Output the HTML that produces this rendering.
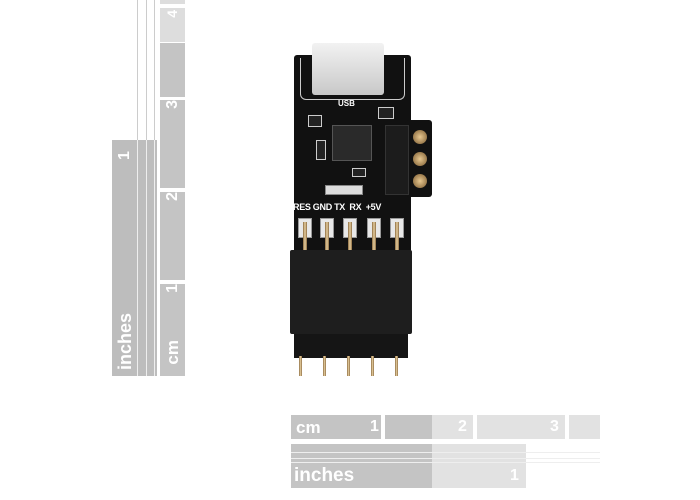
<!DOCTYPE html>
<html><head><style>
body{margin:0;width:700px;height:500px;background:#fff;position:relative;overflow:hidden;font-family:"Liberation Sans",sans-serif}
div{position:absolute;box-sizing:border-box}
.t{color:#fff;font-weight:bold}
.pin{background:linear-gradient(90deg,#8a6a40,#e8d0a0,#8a6a40)}
.smd{border:1px solid #ccc;background:#222}
.hdr{background:#e8e8e8;border:1px solid #999}
</style></head><body>
<!-- vertical rulers -->
<div style="left:137px;top:0;width:1px;height:140px;background:#ccc"></div>
<div style="left:146px;top:0;width:1px;height:140px;background:#ccc"></div>
<div style="left:154px;top:0;width:1px;height:140px;background:#ccc"></div>
<div style="left:112px;top:140px;width:45px;height:236px;background:#bdbdbd"></div>
<div style="left:137px;top:140px;width:1px;height:236px;background:#eee"></div>
<div style="left:146px;top:140px;width:1px;height:236px;background:#eee"></div>
<div style="left:154px;top:140px;width:1px;height:236px;background:#eee"></div>
<div class="t" style="left:112px;top:300px;width:26px;height:70px;font-size:18px;writing-mode:vertical-rl;transform:rotate(180deg);text-align:left;line-height:26px">inches</div>
<div class="t" style="left:112px;top:140px;width:26px;height:20px;font-size:16px;writing-mode:vertical-rl;transform:rotate(180deg);line-height:26px">1</div>
<div style="left:160px;top:0;width:25px;height:4px;background:#ddd"></div>
<div style="left:160px;top:8px;width:25px;height:34px;background:#ddd"></div>
<div class="t" style="left:160px;top:10px;width:25px;font-size:14px;writing-mode:vertical-rl;transform:rotate(180deg);line-height:25px">4</div>
<div style="left:160px;top:43px;width:25px;height:54px;background:#c4c4c4"></div>
<div style="left:160px;top:100px;width:25px;height:88px;background:#c4c4c4"></div>
<div class="t" style="left:160px;top:100px;width:25px;font-size:16px;writing-mode:vertical-rl;transform:rotate(180deg);line-height:25px">3</div>
<div style="left:160px;top:192px;width:25px;height:88px;background:#c4c4c4"></div>
<div class="t" style="left:160px;top:192px;width:25px;font-size:16px;writing-mode:vertical-rl;transform:rotate(180deg);line-height:25px">2</div>
<div style="left:160px;top:284px;width:25px;height:92px;background:#c4c4c4"></div>
<div class="t" style="left:160px;top:284px;width:25px;font-size:16px;writing-mode:vertical-rl;transform:rotate(180deg);line-height:25px">1</div>
<div class="t" style="left:160px;top:340px;width:25px;font-size:17px;writing-mode:vertical-rl;transform:rotate(180deg);line-height:25px">cm</div>
<!-- bottom rulers -->
<div style="left:291px;top:415px;width:90px;height:24px;background:#c4c4c4"></div>
<div class="t" style="left:296px;top:418px;font-size:17px">cm</div>
<div class="t" style="left:370px;top:418px;font-size:16px">1</div>
<div style="left:385px;top:415px;width:47px;height:24px;background:#c4c4c4"></div>
<div style="left:432px;top:415px;width:41px;height:24px;background:#e2e2e2"></div>
<div class="t" style="left:458px;top:418px;font-size:16px">2</div>
<div style="left:477px;top:415px;width:88px;height:24px;background:#e2e2e2"></div>
<div class="t" style="left:550px;top:418px;font-size:16px">3</div>
<div style="left:569px;top:415px;width:31px;height:24px;background:#e2e2e2"></div>
<div style="left:291px;top:444px;width:141px;height:44px;background:#c4c4c4"></div>
<div style="left:432px;top:444px;width:94px;height:44px;background:#e2e2e2"></div>
<div style="left:291px;top:452px;width:309px;height:1px;background:#eee"></div>
<div style="left:291px;top:458px;width:309px;height:1px;background:#eee"></div>
<div style="left:291px;top:462px;width:309px;height:1px;background:#eee"></div>
<div class="t" style="left:294px;top:465px;font-size:19px">inches</div>
<div class="t" style="left:510px;top:467px;font-size:16px">1</div>
<!-- board -->
<div style="left:294px;top:55px;width:117px;height:190px;background:#111;border-radius:3px"></div>
<div style="left:405px;top:120px;width:27px;height:77px;background:#111;border-radius:3px"></div>
<div style="left:312px;top:43px;width:72px;height:52px;background:linear-gradient(#f2f2f2,#c8c8c8);border-radius:3px"></div>
<div style="left:300px;top:58px;width:105px;height:42px;border:1px solid #ccc;border-top:none;border-radius:0 0 6px 6px"></div>
<div class="t" style="left:338px;top:99px;font-size:8px">USB</div>
<div style="left:332px;top:125px;width:40px;height:36px;background:#2a2a2a;border:1px solid #555"></div>
<div style="left:385px;top:125px;width:24px;height:70px;background:#1c1c1c;border:1px solid #333"></div>
<div class="smd" style="left:308px;top:115px;width:14px;height:12px"></div>
<div class="smd" style="left:378px;top:107px;width:16px;height:12px"></div>
<div class="smd" style="left:316px;top:140px;width:10px;height:20px"></div>
<div class="smd" style="left:352px;top:168px;width:14px;height:9px"></div>
<div style="left:325px;top:185px;width:38px;height:10px;background:#ddd;border:1px solid #888"></div>
<div style="left:413px;top:130px;width:14px;height:14px;border-radius:50%;background:radial-gradient(#e8c890,#7a5a30)"></div>
<div style="left:413px;top:152px;width:14px;height:14px;border-radius:50%;background:radial-gradient(#e8c890,#7a5a30)"></div>
<div style="left:413px;top:174px;width:14px;height:14px;border-radius:50%;background:radial-gradient(#e8c890,#7a5a30)"></div>
<div class="t" style="left:293px;top:202px;font-size:9px;white-space:nowrap;letter-spacing:-0.3px">RES GND TX &nbsp;RX &nbsp;+5V</div>
<div style="left:294px;top:213px;width:117px;height:40px;background:#111"></div>
<div class="hdr" style="left:298px;top:218px;width:14px;height:20px"></div>
<div class="hdr" style="left:320px;top:218px;width:14px;height:20px"></div>
<div class="hdr" style="left:343px;top:218px;width:14px;height:20px"></div>
<div class="hdr" style="left:367px;top:218px;width:14px;height:20px"></div>
<div class="hdr" style="left:390px;top:218px;width:14px;height:20px"></div>
<div class="pin" style="left:303px;top:222px;width:4px;height:30px"></div>
<div class="pin" style="left:325px;top:222px;width:4px;height:30px"></div>
<div class="pin" style="left:348px;top:222px;width:4px;height:30px"></div>
<div class="pin" style="left:372px;top:222px;width:4px;height:30px"></div>
<div class="pin" style="left:395px;top:222px;width:4px;height:30px"></div>
<div style="left:290px;top:250px;width:122px;height:84px;background:#1e1e1e;border-radius:2px"></div>
<div style="left:294px;top:334px;width:114px;height:24px;background:#151515"></div>
<div class="pin" style="left:299px;top:356px;width:3px;height:20px"></div>
<div class="pin" style="left:323px;top:356px;width:3px;height:20px"></div>
<div class="pin" style="left:347px;top:356px;width:3px;height:20px"></div>
<div class="pin" style="left:371px;top:356px;width:3px;height:20px"></div>
<div class="pin" style="left:395px;top:356px;width:3px;height:20px"></div>
</body></html>
